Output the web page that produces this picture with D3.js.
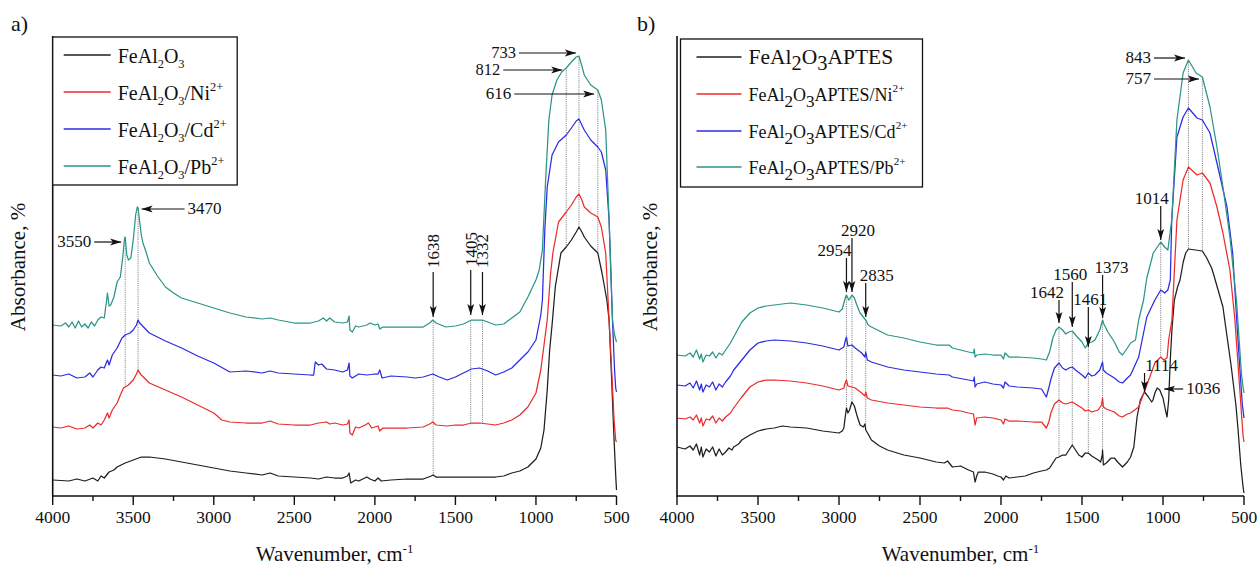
<!DOCTYPE html>
<html>
<head>
<meta charset="utf-8">
<script src="https://cdn.jsdelivr.net/npm/d3@7"></script>
<style>
  body { margin: 0; background: #fff; }
  svg { display: block; font-family: 'Liberation Serif', 'Times New Roman', Times, 'DejaVu Serif', serif; }
  svg text { font-family: 'Liberation Serif', 'Times New Roman', Times, 'DejaVu Serif', serif; fill: #111; }
</style>
</head>
<body>
<svg id="chart" width="1258" height="565" font-family="Liberation Serif, Times New Roman, serif"></svg>
<script>
// ---------- FTIR spectra: [wavenumber (cm-1), absorbance (a.u.)] ----------

// Panel a) FeAl2O3 and after Ni, Cd, Pb uptake
const feAlO = [[4000,16],[3900,15],[3850,17],[3800,15],[3750,18],[3720,15],[3700,20],[3680,18],[3650,24],[3620,26],[3600,29],[3550,33],[3500,36],[3450,39],[3400,39],[3300,37],[3200,34],[3100,31],[3000,28],[2900,25],[2800,23],[2700,21],[2650,23],[2600,20],[2500,19],[2400,18],[2350,17],[2300,19],[2250,18],[2200,18],[2170,20],[2160,23],[2150,13],[2120,16],[2100,15],[2050,19],[2030,17],[2000,15],[1980,18],[1960,15],[1900,16],[1800,17],[1700,17],[1650,20],[1638,21],[1620,19],[1500,19],[1400,19],[1300,19],[1250,19],[1200,20],[1150,23],[1100,25],[1050,29],[1000,37],[970,48],[950,66],[930,106],[915,146],[900,171],[880,209],[845,243],[812,249],[780,256],[750,264],[733,269],[715,264],[700,259],[660,250],[616,243],[590,223],[560,196],[546,176],[530,116],[515,56],[505,21],[500,6]];

const feAlONi = [[4000,69],[3950,68],[3900,70],[3850,67],[3800,68],[3770,71],[3750,68],[3720,73],[3700,71],[3680,76],[3660,83],[3650,78],[3630,86],[3600,93],[3580,101],[3560,108],[3550,109],[3530,111],[3500,116],[3480,122],[3470,126],[3460,123],[3450,121],[3400,113],[3300,106],[3200,99],[3100,91],[3000,83],[2950,76],[2900,74],[2800,73],[2700,73],[2650,75],[2600,72],[2500,71],[2400,71],[2350,73],[2300,74],[2280,72],[2250,73],[2200,71],[2170,72],[2160,76],[2155,63],[2140,61],[2120,69],[2100,68],[2060,71],[2040,73],[2020,68],[2000,69],[1980,70],[1970,65],[1950,68],[1900,68],[1800,68],[1700,69],[1660,72],[1640,74],[1620,71],[1550,70],[1500,71],[1450,71],[1400,73],[1350,73],[1300,72],[1250,71],[1200,73],[1150,76],[1100,81],[1050,89],[1000,103],[970,126],[950,151],[930,176],[910,221],[895,243],[860,274],[812,284],[780,291],[750,299],[733,302],[715,296],[700,289],[660,283],[616,279],[594,269],[567,243],[546,176],[530,126],[515,76],[505,56],[500,54]];

const feAlOCd = [[4000,121],[3950,120],[3900,122],[3850,118],[3800,119],[3770,123],[3750,119],[3720,126],[3700,129],[3680,128],[3660,136],[3650,131],[3630,141],[3600,148],[3570,158],[3550,161],[3520,163],[3500,166],[3480,171],[3470,176],[3460,173],[3430,168],[3400,163],[3300,155],[3200,148],[3100,140],[3000,133],[2900,124],[2800,125],[2700,123],[2650,125],[2600,123],[2500,122],[2400,121],[2380,121],[2370,134],[2350,131],[2330,132],[2300,127],[2250,126],[2200,124],[2170,126],[2160,133],[2155,120],[2140,118],[2100,122],[2050,121],[2000,122],[1980,122],[1970,126],[1955,118],[1900,120],[1800,119],[1750,118],[1700,119],[1660,121],[1640,122],[1600,119],[1550,116],[1500,119],[1450,123],[1400,127],[1350,128],[1300,125],[1250,121],[1200,124],[1150,128],[1100,136],[1050,144],[1000,156],[970,181],[960,196],[945,266],[930,309],[900,341],[860,354],[812,361],[780,368],[750,375],[733,377],[715,371],[700,366],[660,356],[616,349],[594,344],[567,326],[546,276],[525,176],[512,126],[505,108],[500,104]];

const feAlOPb = [[4000,171],[3950,170],[3920,173],[3900,169],[3880,174],[3860,168],[3840,175],[3820,169],[3800,172],[3780,168],[3760,174],[3740,170],[3720,176],[3700,179],[3680,178],[3665,196],[3660,203],[3650,190],[3640,191],[3620,199],[3600,214],[3580,219],[3565,239],[3555,256],[3550,259],[3540,241],[3530,236],[3515,238],[3500,256],[3485,281],[3475,289],[3470,288],[3460,274],[3450,261],[3440,253],[3420,244],[3400,233],[3350,220],[3300,209],[3250,203],[3200,198],[3100,193],[3000,188],[2900,183],[2800,179],[2700,177],[2650,178],[2600,176],[2500,173],[2400,173],[2350,175],[2320,178],[2300,175],[2280,178],[2250,174],[2200,173],[2170,174],[2160,180],[2155,166],[2140,164],[2120,170],[2100,169],[2050,171],[2030,173],[2000,171],[1980,172],[1970,167],[1950,169],[1900,169],[1800,169],[1700,169],[1660,173],[1640,176],[1620,173],[1560,169],[1500,170],[1450,172],[1400,176],[1332,176],[1300,174],[1250,171],[1200,172],[1150,178],[1100,184],[1050,199],[1000,216],[980,226],[960,246],[940,316],[920,376],[900,401],[870,416],[840,424],[812,428],[780,434],[750,439],[733,440],[715,430],[700,421],[660,411],[616,406],[594,396],[567,366],[546,276],[525,176],[512,161],[500,154]];

// Panel b) APTES-functionalised FeAl2O3 and after Ni, Cd, Pb uptake
const aptes = [[4000,49],[3950,47],[3920,50],[3900,46],[3880,52],[3860,41],[3850,49],[3840,39],[3820,47],[3800,44],[3780,49],[3760,40],[3740,47],[3720,41],[3700,44],[3680,48],[3660,46],[3650,49],[3620,52],[3600,56],[3550,61],[3500,65],[3450,67],[3400,68],[3350,70],[3300,69],[3200,68],[3100,65],[3000,63],[2980,65],[2970,68],[2960,81],[2954,88],[2945,83],[2935,86],[2920,94],[2905,90],[2890,81],[2870,71],[2850,69],[2840,72],[2835,66],[2820,62],[2800,56],[2750,50],[2700,46],[2600,41],[2500,38],[2400,34],[2350,33],[2330,35],[2300,29],[2250,30],[2200,26],[2170,24],[2160,14],[2150,20],[2140,24],[2100,24],[2050,22],[2020,20],[2000,19],[1985,16],[1970,20],[1950,18],[1900,19],[1850,20],[1800,23],[1750,25],[1720,26],[1700,28],[1680,33],[1660,38],[1642,39],[1620,41],[1600,41],[1580,46],[1560,51],[1540,46],[1520,41],[1500,39],[1480,43],[1461,43],[1440,40],[1400,36],[1385,34],[1375,41],[1373,46],[1368,31],[1350,33],[1320,38],[1300,38],[1280,34],[1250,29],[1220,34],[1200,39],[1180,49],[1160,79],[1140,96],[1114,104],[1090,99],[1070,94],[1062,96],[1050,103],[1036,108],[1020,106],[1000,98],[985,86],[975,79],[965,96],[955,136],[945,166],[930,196],[910,209],[895,216],[875,234],[860,243],[843,247],[800,246],[757,245],[730,238],[700,228],[690,223],[660,206],[630,189],[613,169],[580,131],[550,91],[538,69],[520,31],[505,8],[500,3]];

const aptesNi = [[4000,78],[3950,77],[3920,79],[3900,76],[3880,81],[3860,73],[3850,78],[3840,70],[3820,77],[3800,76],[3780,80],[3760,73],[3740,78],[3720,75],[3700,79],[3670,83],[3650,88],[3600,99],[3550,109],[3500,114],[3450,116],[3400,116],[3300,115],[3200,113],[3100,110],[3000,106],[2970,108],[2960,114],[2954,116],[2945,110],[2920,109],[2900,108],[2860,103],[2840,100],[2835,104],[2825,98],[2800,96],[2700,93],[2600,91],[2500,89],[2400,88],[2330,88],[2300,86],[2250,85],[2200,83],[2170,82],[2160,71],[2150,78],[2100,79],[2050,78],[2000,76],[1985,72],[1975,77],[1950,75],[1900,75],[1800,74],[1750,74],[1720,68],[1705,74],[1690,84],[1670,92],[1642,96],[1620,93],[1600,92],[1580,93],[1560,94],[1540,92],[1500,88],[1480,85],[1461,86],[1440,84],[1400,86],[1380,91],[1373,98],[1368,89],[1350,87],[1300,84],[1270,80],[1250,79],[1220,82],[1200,83],[1150,89],[1100,111],[1050,133],[1014,139],[995,136],[975,138],[965,156],[945,176],[914,276],[876,316],[843,329],[790,321],[757,323],[710,313],[667,289],[630,263],[587,226],[556,176],[530,116],[515,81],[505,59],[500,54]];

const aptesCd = [[4000,111],[3950,110],[3920,113],[3900,108],[3880,115],[3860,106],[3850,112],[3840,104],[3820,111],[3800,109],[3780,114],[3760,106],[3740,112],[3720,109],[3700,114],[3670,120],[3650,126],[3600,136],[3550,146],[3500,153],[3450,155],[3400,156],[3300,155],[3200,153],[3100,150],[3000,146],[2970,149],[2960,156],[2954,159],[2945,150],[2920,151],[2900,148],[2860,143],[2840,139],[2835,144],[2825,136],[2800,134],[2700,129],[2600,126],[2500,124],[2400,122],[2320,121],[2300,119],[2200,116],[2170,115],[2165,119],[2160,109],[2150,112],[2100,114],[2050,112],[2000,111],[1985,108],[1975,114],[1950,110],[1900,109],[1800,108],[1750,107],[1720,99],[1705,108],[1690,118],[1670,128],[1642,133],[1620,128],[1600,126],[1580,128],[1560,129],[1540,126],[1500,121],[1480,118],[1461,123],[1440,120],[1420,121],[1390,126],[1373,134],[1368,126],[1350,123],[1300,118],[1270,114],[1250,113],[1220,118],[1200,121],[1150,139],[1100,179],[1050,196],[1014,206],[990,203],[970,206],[955,216],[946,276],[914,359],[876,379],[843,388],[790,378],[757,376],[710,363],[667,333],[605,289],[570,243],[545,176],[525,126],[510,91],[500,78]];

const aptesPb = [[4000,141],[3950,140],[3920,143],[3900,139],[3880,146],[3860,137],[3850,142],[3840,134],[3820,141],[3800,140],[3780,144],[3760,138],[3740,143],[3720,141],[3700,146],[3670,153],[3650,159],[3600,174],[3550,183],[3500,188],[3450,190],[3400,191],[3300,193],[3200,191],[3100,188],[3000,184],[2980,187],[2970,193],[2960,199],[2954,201],[2940,196],[2930,198],[2920,201],[2905,198],[2890,191],[2870,183],[2850,179],[2835,176],[2820,171],[2800,169],[2700,161],[2600,158],[2500,154],[2400,151],[2320,151],[2300,148],[2200,144],[2170,143],[2165,147],[2160,139],[2150,141],[2100,142],[2050,141],[2000,141],[1985,137],[1975,143],[1950,139],[1900,139],[1800,138],[1750,137],[1720,136],[1700,144],[1680,158],[1660,166],[1642,169],[1620,166],[1600,162],[1580,164],[1560,165],[1540,161],[1500,154],[1480,148],[1461,153],[1440,154],[1420,156],[1390,166],[1373,176],[1365,172],[1340,164],[1300,154],[1270,144],[1250,141],[1220,148],[1200,153],[1170,156],[1150,176],[1120,196],[1100,218],[1060,243],[1014,254],[990,249],[970,246],[946,276],[914,376],[876,423],[843,436],[796,423],[757,419],[710,389],[667,349],[630,309],[587,259],[545,193],[530,156],[515,121],[505,108],[500,103]];

// Axis ticks and legend entries (_{..} subscript, ^{..} superscript)
const wnTicks = [4000, 3500, 3000, 2500, 2000, 1500, 1000, 500];
const wnMinor = [3750, 3250, 2750, 2250, 1750, 1250, 750];
const namesA = ["FeAl_{2}O_{3}", "FeAl_{2}O_{3}/Ni^{2+}", "FeAl_{2}O_{3}/Cd^{2+}", "FeAl_{2}O_{3}/Pb^{2+}"];
const namesB = ["FeAl_{2}O_{3}APTES", "FeAl_{2}O_{3}APTES/Ni^{2+}", "FeAl_{2}O_{3}APTES/Cd^{2+}", "FeAl_{2}O_{3}APTES/Pb^{2+}"];

// Assigned bands (cm-1)
const bandsA = [3550, 3470, 1638, 1405, 1332, 812, 733, 616];
const bandsB = [2954, 2920, 2835, 1642, 1560, 1461, 1373, 1114, 1036, 1014, 843, 757];

const colors = ["#1e1e1e", "#ec2b2b", "#2b2be3", "#2b9587"];
const FONT = "'Liberation Serif', 'Times New Roman', Times, serif";

// ---------- drawing ----------
const svg = d3.select("#chart");
const defs = svg.append("defs");
defs.append("marker")
  .attr("id", "head").attr("markerUnits", "userSpaceOnUse")
  .attr("markerWidth", 12).attr("markerHeight", 8)
  .attr("refX", 11).attr("refY", 4).attr("orient", "auto")
  .append("path").attr("d", "M0,0.6 L11,4 L0,7.4 L2.6,4 Z").attr("fill", "#111");

function label(parent) {
  return parent.append("text").style("font-family", FONT);
}

function richText(sel, str, subScale, subShift, supScale, supShift) {
  const parts = str.match(/_\{[^}]*\}|\^\{[^}]*\}|[^_^]+/g);
  let cur = 0;
  const base = parseFloat(sel.attr("font-size"));
  parts.forEach(p => {
    let txt = p, size = base, off = 0;
    if (p.startsWith("_{")) { txt = p.slice(2, -1); size = base * subScale; off = subShift; }
    else if (p.startsWith("^{")) { txt = p.slice(2, -1); size = base * supScale; off = supShift; }
    sel.append("tspan").attr("dy", off - cur).attr("font-size", size).text(txt);
    cur = off;
  });
}

function valueAt(series, wn) {
  for (let i = 0; i < series.length - 1; i++) {
    const a = series[i], b = series[i + 1];
    if (wn <= a[0] && wn >= b[0]) {
      const t = (a[0] - wn) / (a[0] - b[0]);
      return a[1] + t * (b[1] - a[1]);
    }
  }
  return series[series.length - 1][1];
}

function panel(cfg) {
  const x = d3.scaleLinear().domain([4000, 500]).range(cfg.xr);
  const y = d3.scaleLinear().domain([0, 460]).range([496, 36]);
  const g = svg.append("g");

  // guide lines dropped from the top spectrum
  cfg.drops.forEach(([wn, lower]) => {
    g.append("line")
      .attr("x1", x(wn)).attr("x2", x(wn))
      .attr("y1", y(valueAt(cfg.series[3], wn)))
      .attr("y2", y(valueAt(cfg.series[lower], wn)))
      .attr("stroke", "#8a8a8a").attr("stroke-width", 1)
      .attr("stroke-dasharray", "1.2,1");
  });

  // spectra
  const line = d3.line().x(d => x(d[0])).y(d => y(d[1]));
  cfg.series.forEach((s, i) => {
    g.append("path").datum(s).attr("d", line)
      .attr("fill", "none").attr("stroke", colors[i])
      .attr("stroke-width", 1.25).attr("stroke-linejoin", "round");
  });

  // axes
  const ax = g.append("g").attr("transform", "translate(0,496)");
  ax.append("line").attr("x1", cfg.xr[0]).attr("x2", cfg.xr[1])
    .attr("stroke", "#111").attr("stroke-width", 1.6);
  ax.selectAll("line.maj").data(wnTicks).join("line").attr("class", "maj")
    .attr("x1", d => x(d)).attr("x2", d => x(d)).attr("y1", 0).attr("y2", 9)
    .attr("stroke", "#111").attr("stroke-width", 1.4);
  ax.selectAll("line.min").data(wnMinor).join("line").attr("class", "min")
    .attr("x1", d => x(d)).attr("x2", d => x(d)).attr("y1", 0).attr("y2", 5)
    .attr("stroke", "#111").attr("stroke-width", 1.4);
  ax.selectAll("text").data(wnTicks).join("text")
    .style("font-family", FONT)
    .attr("x", d => x(d)).attr("y", 27).attr("text-anchor", "middle")
    .attr("font-size", 17.5).text(d => d);
  g.append("line").attr("x1", cfg.xr[0]).attr("x2", cfg.xr[0])
    .attr("y1", 36).attr("y2", 496.8).attr("stroke", "#111").attr("stroke-width", 1.6);

  // axis titles
  const xt = label(g).attr("x", (cfg.xr[0] + cfg.xr[1]) / 2).attr("y", 561)
    .attr("text-anchor", "middle").attr("font-size", 21);
  xt.append("tspan").text("Wavenumber, cm");
  xt.append("tspan").attr("dy", -8).attr("font-size", 13).text("-1");
  label(g).attr("transform", `translate(${cfg.yTitleX},267) rotate(-90)`)
    .attr("text-anchor", "middle").attr("font-size", 21).text("Absorbance, %");
  label(g).attr("x", cfg.tagX).attr("y", 31).attr("font-size", 22).text(cfg.tag);

  // band callouts
  cfg.callouts.forEach(c => {
    const X = x(c.wn);
    if (c.kind === "h") {
      const yy = y(c.level);
      const tip = X + c.side * c.gap, tail = tip + c.side * c.len;
      g.append("line").attr("x1", tail).attr("x2", tip).attr("y1", yy).attr("y2", yy)
        .attr("stroke", "#111").attr("stroke-width", 1.2).attr("marker-end", "url(#head)");
      label(g).attr("x", tail + c.side * 3).attr("y", yy + 5)
        .attr("text-anchor", c.side < 0 ? "end" : "start")
        .attr("font-size", c.size || 17).text(c.wn);
    } else {
      g.append("line").attr("x1", X).attr("x2", X).attr("y1", y(c.from)).attr("y2", y(c.to))
        .attr("stroke", "#111").attr("stroke-width", 1.2).attr("marker-end", "url(#head)");
      if (c.rot) {
        label(g).attr("transform", `translate(${X + 6},${y(c.from) - 4}) rotate(-90)`)
          .attr("font-size", 17).text(c.wn);
      } else {
        label(g).attr("x", X + c.dx).attr("y", y(c.from) - 2)
          .attr("text-anchor", "middle").attr("font-size", 17).text(c.wn);
      }
    }
  });

  // legend
  const L = cfg.legend;
  const lg = g.append("g");
  lg.append("rect").attr("x", L.x).attr("y", L.y).attr("width", L.w).attr("height", L.h)
    .attr("fill", "#fff").attr("stroke", "#111").attr("stroke-width", 1.3);
  cfg.names.forEach((n, i) => {
    const ly = L.rows[i];
    lg.append("line").attr("x1", L.x + L.lx0).attr("x2", L.x + L.lx1)
      .attr("y1", ly).attr("y2", ly).attr("stroke", colors[i]).attr("stroke-width", 1.3);
    const t = label(lg).attr("x", L.x + L.tx).attr("y", ly + L.base)
      .attr("font-size", L.sizes[i]);
    richText(t, n, L.subScale, L.subShift, 0.62, -9);
  });
}

// Panel a
const calloutsA = [
  { wn: bandsA[0], kind: "h", side: -1, level: 254, gap: 4, len: 27 },
  { wn: bandsA[1], kind: "h", side: 1, level: 287, gap: 3.5, len: 43 },
  { wn: bandsA[2], kind: "v", from: 224, to: 179, rot: true },
  { wn: bandsA[3], kind: "v", from: 226, to: 181, rot: true },
  { wn: bandsA[4], kind: "v", from: 224, to: 181, rot: true },
  { wn: bandsA[5], kind: "h", side: -1, level: 426, gap: 4, len: 59, size: 16.5 },
  { wn: bandsA[6], kind: "h", side: -1, level: 443, gap: 3, len: 57, size: 16.5 },
  { wn: bandsA[7], kind: "h", side: -1, level: 402, gap: 3.6, len: 80 }
];
panel({
  xr: [52.7, 616.5], series: [feAlO, feAlONi, feAlOCd, feAlOPb],
  names: namesA, tag: "a)", tagX: 11, yTitleX: 25,
  drops: [[3550, 1], [3470, 1], [1638, 0], [1405, 1], [1332, 1], [812, 0], [733, 0], [616, 0]],
  callouts: calloutsA,
  legend: { x: 52.7, y: 37, w: 184.5, h: 148, lx0: 11, lx1: 58, tx: 65,
            rows: [55, 92, 129, 166], base: 8, sizes: [20, 20, 20, 20],
            subScale: 0.62, subShift: 5 }
});

// Panel b
const calloutsB = [
  { wn: bandsB[0], kind: "v", from: 238, to: 204, dx: -12 },
  { wn: bandsB[1], kind: "v", from: 258, to: 204, dx: 6 },
  { wn: bandsB[2], kind: "v", from: 213, to: 179, dx: 11 },
  { wn: bandsB[3], kind: "v", from: 196, to: 173, dx: -12 },
  { wn: bandsB[4], kind: "v", from: 214, to: 169, dx: -2 },
  { wn: bandsB[5], kind: "v", from: 189, to: 149, dx: 2 },
  { wn: bandsB[6], kind: "v", from: 221, to: 178, dx: 9 },
  { wn: bandsB[7], kind: "v", from: 123, to: 104, dx: 17 },
  { wn: bandsB[8], kind: "h", side: 1, level: 107, gap: 7, len: 19 },
  { wn: bandsB[9], kind: "v", from: 290, to: 256, dx: -9 },
  { wn: bandsB[10], kind: "h", side: -1, level: 438, gap: 3.4, len: 31 },
  { wn: bandsB[11], kind: "h", side: -1, level: 417, gap: 3.4, len: 45 }
];
panel({
  xr: [677, 1244], series: [aptes, aptesNi, aptesCd, aptesPb],
  names: namesB, tag: "b)", tagX: 637, yTitleX: 657,
  drops: [[2954, 0], [2920, 0], [2835, 0], [1642, 0], [1560, 0], [1461, 0], [1373, 0], [1014, 1], [843, 0], [757, 0]],
  callouts: calloutsB,
  legend: { x: 680.5, y: 39, w: 242, h: 148, lx0: 16, lx1: 61, tx: 68,
            rows: [57, 94, 131, 167], base: 7, sizes: [21.5, 18, 18, 18],
            subScale: 0.95, subShift: 6 }
});
</script>
</body>
</html>
